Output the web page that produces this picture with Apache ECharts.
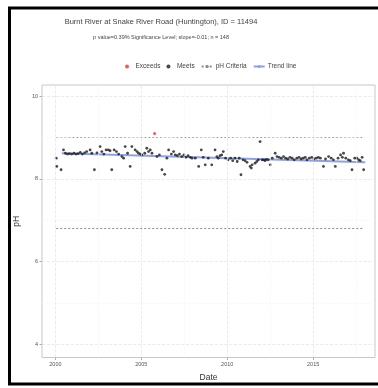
<!DOCTYPE html>
<html>
<head>
<meta charset="utf-8">
<script src="https://cdn.jsdelivr.net/npm/echarts@6/dist/echarts.min.js"></script>
<style>
html,body{margin:0;padding:0;background:#fff;}
#chart{width:378px;height:388px;}
</style>
</head>
<body>
<div id="chart"></div>
<script>
// ---- data ----
const meetsDates = [2000.05,2000.08,2000.33,2000.47,2000.58,2000.70,2000.82,2000.95,2001.08,2001.20,2001.32,2001.45,2001.57,2001.70,2001.82,2002.02,2002.12,2002.27,2002.42,2002.60,2002.70,2002.82,2002.95,2003.08,2003.18,2003.28,2003.42,2003.55,2003.68,2003.87,2003.97,2004.06,2004.20,2004.35,2004.45,2004.64,2004.75,2004.84,2004.95,2005.03,2005.20,2005.32,2005.42,2005.52,2005.62,2005.91,2006.05,2006.20,2006.36,2006.49,2006.59,2006.75,2006.88,2006.98,2007.10,2007.22,2007.35,2007.48,2007.60,2007.72,2007.85,2007.95,2008.14,2008.34,2008.49,2008.60,2008.72,2008.90,2009.10,2009.29,2009.40,2009.48,2009.58,2009.68,2009.77,2009.90,2010.05,2010.20,2010.32,2010.45,2010.58,2010.70,2010.80,2010.92,2011.04,2011.15,2011.33,2011.40,2011.45,2011.62,2011.72,2011.81,2011.91,2012.03,2012.12,2012.20,2012.28,2012.38,2012.50,2012.62,2012.79,2012.90,2013.02,2013.15,2013.28,2013.40,2013.52,2013.65,2013.78,2013.90,2014.05,2014.18,2014.30,2014.42,2014.54,2014.64,2014.78,2014.92,2015.05,2015.18,2015.30,2015.42,2015.60,2015.72,2015.90,2016.05,2016.18,2016.29,2016.45,2016.60,2016.70,2016.77,2016.90,2017.05,2017.16,2017.26,2017.42,2017.55,2017.65,2017.74,2017.85,2017.94];
const meetsPH = [8.50,8.30,8.22,8.70,8.62,8.60,8.61,8.60,8.62,8.60,8.61,8.64,8.60,8.63,8.66,8.70,8.62,8.22,8.63,8.78,8.66,8.60,8.70,8.70,8.68,8.22,8.70,8.66,8.60,8.54,8.50,8.78,8.62,8.30,8.78,8.70,8.66,8.62,8.60,8.58,8.62,8.74,8.66,8.70,8.62,8.54,8.58,8.22,8.11,8.50,8.70,8.60,8.66,8.58,8.56,8.60,8.54,8.58,8.52,8.56,8.52,8.50,8.50,8.30,8.70,8.52,8.34,8.50,8.34,8.70,8.54,8.50,8.56,8.58,8.66,8.50,8.46,8.50,8.44,8.50,8.42,8.50,8.10,8.46,8.44,8.40,8.30,8.26,8.34,8.38,8.42,8.46,8.90,8.46,8.46,8.44,8.47,8.46,8.34,8.50,8.62,8.54,8.52,8.50,8.54,8.50,8.48,8.52,8.50,8.46,8.50,8.52,8.48,8.50,8.52,8.46,8.50,8.52,8.48,8.50,8.52,8.50,8.30,8.48,8.54,8.50,8.46,8.30,8.50,8.58,8.52,8.62,8.50,8.46,8.44,8.22,8.50,8.50,8.46,8.44,8.52,8.22];
const exceedDates = [2005.77];
const exceedPH = [9.10];
const criteriaDates = [2000.05, 2017.94];
const criteriaUpper = [9.0, 9.0];
const criteriaLower = [6.8, 6.8];
const trendDates = [2000.37, 2018.03];
const trendPH = [8.62, 8.40];
const xTicks = [2000, 2005, 2010, 2015];
const xMinor = [2002.5, 2007.5, 2012.5, 2017.5];
const yTicks = [4, 6, 8, 10];
const yMinor = [5, 7, 9];
const titleText = 'Burnt River at Snake River Road (Huntington), ID = 11494';
const subText = 'p value=0.39% Significance Level; slope=-0.01; n = 148';

const zip = (a, b) => a.map((v, i) => [v, b[i]]);

const chart = echarts.init(document.getElementById('chart'), null, {renderer: 'canvas'});
const FONT = 'Liberation Sans, Arial, sans-serif';

const gridLines = [];
xTicks.forEach(v => gridLines.push({xAxis: v, lineStyle: {color: '#e6e6e6', width: 0.8}}));
yTicks.forEach(v => gridLines.push({yAxis: v, lineStyle: {color: '#e6e6e6', width: 0.8}}));
xMinor.forEach(v => gridLines.push({xAxis: v, lineStyle: {color: '#f3f3f3', width: 0.6}}));
yMinor.forEach(v => gridLines.push({yAxis: v, lineStyle: {color: '#f3f3f3', width: 0.6}}));

chart.setOption({
  animation: false,
  backgroundColor: '#fff',
  textStyle: {fontFamily: FONT},
  title: [
    {text: titleText, left: 156, top: 13, textAlign: 'center',
     textStyle: {fontSize: 7.5, fontWeight: 'normal', color: '#444', fontFamily: FONT}},
    {text: subText, left: 156, top: 29, textAlign: 'center',
     textStyle: {fontSize: 5.5, fontWeight: 'normal', color: '#444', fontFamily: FONT}}
  ],
  legend: {
    data: ['Exceeds', 'Meets', 'pH Criteria', 'Trend line'],
    left: 120, top: 58,
    itemWidth: 11, itemHeight: 4, itemGap: 6,
    textStyle: {fontSize: 6.5, color: '#444', fontFamily: FONT, padding: [0, 0, 0, -2]}
  },
  grid: {left: 42, right: 3, top: 85, bottom: 30.5, show: true,
         borderColor: '#c8c8c8', borderWidth: 1, backgroundColor: '#fff', containLabel: false},
  xAxis: {
    type: 'value', min: 1999.22, max: 2018.6,
    name: 'Date', nameLocation: 'middle', nameGap: 16,
    nameTextStyle: {fontSize: 8.5, color: '#333', fontFamily: FONT},
    axisLine: {show: false},
    splitLine: {show: false},
    axisTick: {show: true, customValues: xTicks, length: 2.5, lineStyle: {color: '#999', width: 0.8}},
    axisLabel: {customValues: xTicks, fontSize: 5.5, color: '#555', margin: 4, fontFamily: FONT,
                formatter: v => String(Math.round(v))}
  },
  yAxis: {
    type: 'value', min: 3.68, max: 10.27,
    name: 'pH', nameLocation: 'middle', nameGap: 20,
    nameTextStyle: {fontSize: 8.5, color: '#333', fontFamily: FONT},
    axisLine: {show: false},
    splitLine: {show: false},
    axisTick: {show: true, customValues: yTicks, length: 2.5, lineStyle: {color: '#999', width: 0.8}},
    axisLabel: {customValues: yTicks, fontSize: 5.5, color: '#555', margin: 4, fontFamily: FONT,
                formatter: v => String(Math.round(v))}
  },
  graphic: [
    {type: 'rect', z: 100, silent: true,
     shape: {x: 9.5, y: 8, width: 380, height: 376},
     style: {fill: 'none', stroke: '#000', lineWidth: 3}}
  ],
  series: [
    {name: 'grid', type: 'line', data: [[2000, 8]], symbol: 'none', lineStyle: {opacity: 0},
     silent: true, z: 0,
     markLine: {silent: true, symbol: 'none', label: {show: false}, animation: false, data: gridLines}},
    {name: 'pH Criteria', type: 'line', data: zip(criteriaDates, criteriaUpper), symbol: 'none', z: 2,
     lineStyle: {color: '#8a8a8a', width: 1, type: [2, 2]}, itemStyle: {color: '#8a8a8a'}},
    {name: 'pH Criteria', type: 'line', data: zip(criteriaDates, criteriaLower), symbol: 'none', z: 2,
     lineStyle: {color: '#8a8a8a', width: 1, type: [2, 2]}, itemStyle: {color: '#8a8a8a'}},
    {name: 'Trend line', type: 'line', data: zip(trendDates, trendPH), symbol: 'none', z: 3,
     lineStyle: {color: '#8da0ec', width: 2}, itemStyle: {color: '#8da0ec'}},
    {name: 'Meets', type: 'scatter', data: zip(meetsDates, meetsPH), symbol: 'circle', symbolSize: 2.8, z: 4,
     itemStyle: {color: '#1a1a1a'}},
    {name: 'Exceeds', type: 'scatter', data: zip(exceedDates, exceedPH), symbol: 'circle', symbolSize: 3, z: 5,
     itemStyle: {color: '#ff2a2a'}}
  ]
});
</script>
</body>
</html>
